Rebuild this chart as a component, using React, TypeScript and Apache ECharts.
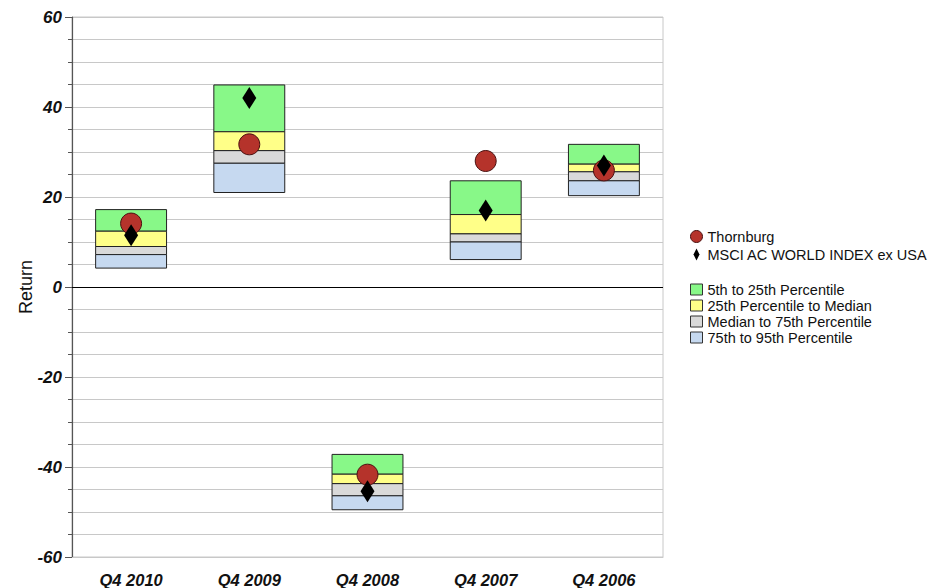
import React, { useEffect, useRef } from "react";
import * as echarts from "echarts";

const categories = ["Q4 2010", "Q4 2009", "Q4 2008", "Q4 2007", "Q4 2006"];
const p5 = [17.2, 44.9, -37.2, 23.6, 31.7];
const p25 = [12.4, 34.5, -41.6, 16.1, 27.3];
const median = [9.0, 30.3, -43.7, 11.8, 25.6];
const p75 = [7.2, 27.5, -46.4, 10.0, 23.6];
const p95 = [4.2, 21.0, -49.5, 6.1, 20.3];
const thornburg = [14.1, 31.7, -41.7, 28.0, 25.9];
const msci = [11.5, 42.0, -45.4, 17.0, 27.0];

const bandNames = [
  "5th to 25th Percentile",
  "25th Percentile to Median",
  "Median to 75th Percentile",
  "75th to 95th Percentile",
];
const bandColors = ["#88F888", "#FFFF88", "#D9D9D9", "#C6D9F0"];
const bandTops = [p5, p25, median, p75];
const bandBottoms = [p25, median, p75, p95];

const FONT = "'Liberation Sans', Arial, Helvetica, sans-serif";

export default function App() {
  const ref = useRef<HTMLDivElement>(null);
  useEffect(() => {
    if (!ref.current) return;
    const chart = echarts.init(ref.current, null, { renderer: "svg" });

    const bandSeries = bandNames.map((name, k) => ({
      name,
      type: "custom",
      z: 2,
      encode: { x: 0, y: [1, 2] },
      itemStyle: { color: bandColors[k], borderColor: "#222", borderWidth: 1 },
      data: categories.map((_, i) => [i, bandBottoms[k][i], bandTops[k][i]]),
      renderItem: (params: any, api: any) => {
        const x = api.value(0);
        const lo = api.coord([x, api.value(1)]);
        const hi = api.coord([x, api.value(2)]);
        const w = api.size([1, 0])[0] * 0.6;
        return {
          type: "rect",
          shape: { x: lo[0] - w / 2, y: hi[1], width: w, height: lo[1] - hi[1] },
          style: { fill: bandColors[k], stroke: "#222", lineWidth: 1 },
        };
      },
    }));

    chart.setOption({
      animation: false,
      grid: {
        left: 72,
        right: 284,
        top: 17,
        bottom: 31,
        show: true,
        borderColor: "#c8c8c8",
        borderWidth: 1,
        backgroundColor: "transparent",
      },
      legend: [
        {
          orient: "vertical",
          left: 690,
          top: 229,
          padding: 0,
          itemWidth: 12,
          itemHeight: 12,
          itemGap: 3,
          selectedMode: false,
          textStyle: { fontFamily: FONT, fontSize: 14.5, color: "#111" },
          data: [
            {
              name: "Thornburg",
              icon: "circle",
              itemStyle: { color: "#B5332B", borderColor: "#4a1010", borderWidth: 1 },
            },
            {
              name: "MSCI AC WORLD INDEX ex USA",
              icon: "path://M3,0L6,6L3,12L0,6Z",
              itemStyle: { color: "#000", borderWidth: 0 },
            },
          ],
        },
        {
          orient: "vertical",
          left: 690,
          top: 282,
          padding: 0,
          itemWidth: 12,
          itemHeight: 11,
          itemGap: 1,
          selectedMode: false,
          textStyle: { fontFamily: FONT, fontSize: 14.5, color: "#111" },
          data: bandNames.map((name, k) => ({
            name,
            icon: "rect",
            itemStyle: { color: bandColors[k], borderColor: "#333", borderWidth: 1 },
          })),
        },
      ],
      xAxis: {
        type: "category",
        data: categories,
        boundaryGap: true,
        axisLine: { onZero: false, lineStyle: { color: "#c8c8c8" } },
        axisTick: { alignWithLabel: true, length: 9, lineStyle: { color: "#555" } },
        axisLabel: {
          margin: 14,
          fontFamily: FONT,
          fontSize: 16.5,
          fontWeight: "bold",
          fontStyle: "italic",
          color: "#111",
        },
        splitLine: { show: false },
      },
      yAxis: {
        type: "value",
        min: -60,
        max: 60,
        interval: 20,
        name: "Return",
        nameLocation: "middle",
        nameGap: 37,
        nameMoveOverlap: false,
        nameTextStyle: { fontFamily: FONT, fontSize: 18, color: "#111" },
        axisLine: { show: true, lineStyle: { color: "#555", width: 1.2 } },
        axisTick: { show: true, length: 7, lineStyle: { color: "#555" } },
        minorTick: { show: true, splitNumber: 4, length: 4, lineStyle: { color: "#555" } },
        splitLine: { show: true, lineStyle: { color: "#c8c8c8", width: 1 } },
        minorSplitLine: { show: true, lineStyle: { color: "#c8c8c8", width: 1 } },
        axisLabel: {
          margin: 10,
          fontFamily: FONT,
          fontSize: 17,
          fontWeight: "bold",
          fontStyle: "italic",
          color: "#111",
        },
      },
      series: [
        ...bandSeries,
        {
          name: "Thornburg",
          type: "scatter",
          z: 3,
          symbol: "circle",
          symbolSize: 21,
          itemStyle: { color: "#B5332B", borderColor: "#4a1010", borderWidth: 1, opacity: 1 },
          data: thornburg,
          markLine: {
            silent: true,
            symbol: ["none", "none"],
            label: { show: false },
            lineStyle: { color: "#000", width: 1, type: "solid" },
            data: [{ yAxis: 0 }],
          },
        },
        {
          name: "MSCI AC WORLD INDEX ex USA",
          type: "scatter",
          z: 4,
          symbol: "diamond",
          symbolSize: [14, 22],
          itemStyle: { color: "#000", opacity: 1 },
          data: msci,
        },
      ],
    });
    return () => chart.dispose();
  }, []);
  return (
    <div
      ref={ref}
      style={{ position: "fixed", left: 0, top: 0, width: 947, height: 588, background: "#fff" }}
    />
  );
}
